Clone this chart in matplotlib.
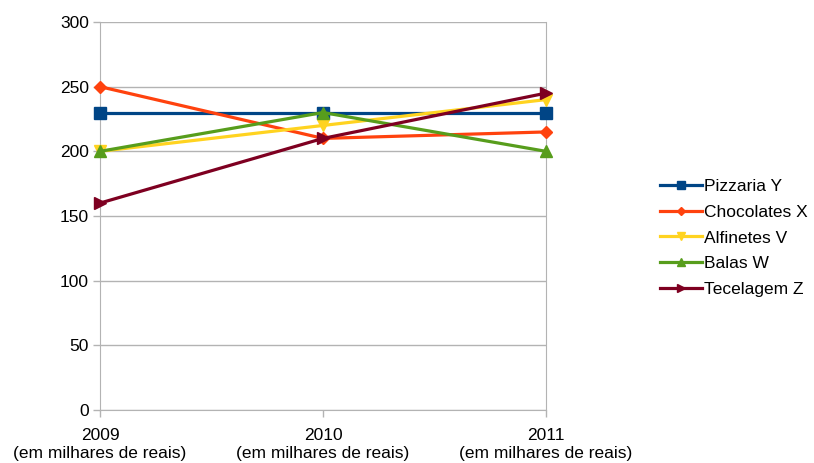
import matplotlib
matplotlib.use("Agg")
import matplotlib.pyplot as plt

plt.rcParams["font.family"] = ["Liberation Sans", "DejaVu Sans"]

# Data
years = ["2009", "2010", "2011"]
x_labels = [f"{y}\n(em milhares de reais)" for y in years]
series_names = ["Pizzaria Y", "Chocolates X", "Alfinetes V", "Balas W", "Tecelagem Z"]
pizzaria = [230, 230, 230]
chocolates = [250, 210, 215]
alfinetes = [200, 220, 240]
balas = [200, 230, 200]
tecelagem = [160, 210, 245]

colors = ["#004586", "#ff420e", "#ffd320", "#579d1c", "#7e0021"]
markers = ["s", "D", "v", "^", ">"]
sizes = [8.5, 6.5, 8.5, 8.5, 8.5]

fig = plt.figure(figsize=(8.14, 4.63), dpi=100)
ax = fig.add_axes([100 / 814, 53 / 463, 446 / 814, 388 / 463])

xs = list(range(len(years)))
for name, vals, c, m, s in zip(series_names, [pizzaria, chocolates, alfinetes, balas, tecelagem],
                               colors, markers, sizes):
    ax.plot(xs, vals, color=c, marker=m, markersize=s, linewidth=2.3, label=name,
            clip_on=False, zorder=3)

ax.set_xlim(0, 2)
ax.set_ylim(0, 300)
ax.set_yticks(range(0, 301, 50))
ax.set_xticks(xs)
ax.set_xticklabels(x_labels, fontsize=12.5, linespacing=1.22)
ax.tick_params(axis="y", labelsize=12.5, length=5, color="#b3b3b3", width=1, pad=3)
ax.tick_params(axis="x", length=5, color="#b3b3b3", width=1, pad=8)
ax.grid(axis="y", color="#b3b3b3", linewidth=1)
ax.set_axisbelow(True)
for side in ["left", "right", "bottom"]:
    ax.spines[side].set_color("#b3b3b3")
ax.spines["top"].set_visible(False)

leg = ax.legend(loc="center left", bbox_to_anchor=(653 / 814, 0.486), bbox_transform=fig.transFigure,
                frameon=False, fontsize=12.5, handlelength=2.4, handletextpad=0.15,
                labelspacing=0.62, borderaxespad=0, markerscale=0.7)

fig.savefig("out.png", dpi=100)
